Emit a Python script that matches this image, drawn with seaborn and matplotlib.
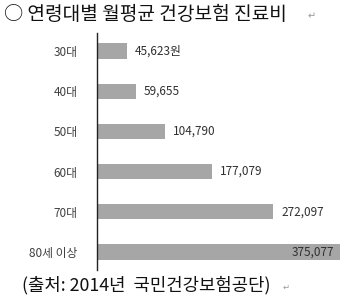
import matplotlib
matplotlib.use("Agg")
import matplotlib.pyplot as plt
import seaborn as sns
import pandas as pd

categories = ["30대", "40대", "50대", "60대", "70대", "80세 이상"]
values = [45623, 59655, 104790, 177079, 272097, 375077]
value_labels = ["45,623원", "59,655", "104,790", "177,079", "272,097", "375,077"]
title = "○ 연령대별 월평균 건강보험 진료비"
source = "(출처: 2014년  국민건강보험공단)"

sns.set_style("white")
plt.rcParams["font.family"] = ["Noto Sans CJK KR", "DejaVu Sans"]

df = pd.DataFrame({"age": categories, "cost": values})

fig = plt.figure(figsize=(3.54, 3.0), dpi=100)
ax = fig.add_axes([97/354, 0.10, 253/354, 0.79])
sns.barplot(data=df, y="age", x="cost", orient="h", color="#a6a6a6",
            saturation=1, width=0.38, ax=ax, edgecolor="none")

ax.set_xlim(0, 390500)
ax.set_ylim(5.45, -0.45)
ax.set_xlabel("")
ax.set_ylabel("")
ax.set_xticks([])
for s in ["top", "right", "bottom"]:
    ax.spines[s].set_visible(False)
ax.spines["left"].set_color("#222222")
ax.spines["left"].set_linewidth(1.0)
ax.tick_params(axis="y", length=0, pad=14, labelsize=8.5, labelcolor="#404040")

for i, (v, lab) in enumerate(zip(values, value_labels)):
    if i == len(values) - 1:
        ax.annotate(lab, (v, i), xytext=(-4, 0), textcoords="offset points",
                    ha="right", va="center", fontsize=8.5, color="#303030")
    else:
        ax.annotate(lab, (v, i), xytext=(6, 0), textcoords="offset points",
                    ha="left", va="center", fontsize=8.5, color="#303030")

fig.text(4/354, 1 - 15/300, title, fontsize=13.8, color="#111111",
         ha="left", va="center")
fig.text(308/354, 1 - 16/300, "↵", fontsize=7, color="#999999",
         ha="left", va="center")
fig.text(22/354, 1 - 285/300, source, fontsize=12.8, color="#111111",
         ha="left", va="center")
fig.text(283/354, 1 - 287/300, "↵", fontsize=6, color="#999999",
         ha="left", va="center")

fig.savefig("out.png", dpi=100, facecolor="white")
